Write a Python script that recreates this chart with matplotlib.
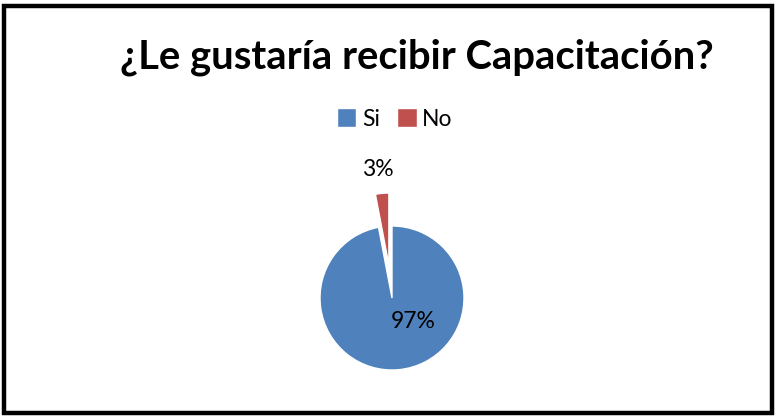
import matplotlib
matplotlib.use("Agg")
import matplotlib.pyplot as plt
from matplotlib.patches import Rectangle

# Survey answers
categories = ["Si", "No"]
values = [97, 3]
colors = ["#4F81BD", "#C0504D"]
title = "¿Le gustaría recibir Capacitación?"

FONT = ["Lato", "DejaVu Sans"]
W, H, DPI = 777, 418, 100
fig = plt.figure(figsize=(W / DPI, H / DPI), dpi=DPI)
fig.patch.set_facecolor("white")

# Axes covering the whole figure; one data unit = pie radius in pixels
cx, cy, r = 392, 298, 72
ax = fig.add_axes([0, 0, 1, 1])
wedges, texts, autotexts = ax.pie(
    values,
    colors=colors,
    startangle=90,
    counterclock=False,
    explode=[0, 0.46],
    autopct="%1.0f%%",
    wedgeprops=dict(edgecolor="white", linewidth=1.0),
    textprops=dict(fontsize=16.5, color="black", family=FONT),
)
ax.set_xlim(-cx / r, (W - cx) / r)
ax.set_ylim(-(H - cy) / r, cy / r)
ax.set_aspect("auto")
ax.axis("off")

# Percentage label placement
autotexts[0].set_position((0.30, -0.33))
autotexts[1].set_position((-0.19, 1.78))
for t in autotexts:
    t.set_ha("center")
    t.set_va("center")

# Title
fig.text(417 / W, 1 - 57 / H, title, ha="center", va="center",
         fontsize=28.8, fontweight="bold", family=FONT)

# Legend
leg = fig.legend(wedges, categories, loc="center", bbox_to_anchor=(395 / W, 1 - 119 / H),
                 ncol=2, frameon=False, handlelength=0.84, handleheight=0.84,
                 handletextpad=0.25, columnspacing=0.75,
                 prop=dict(family=FONT, size=16.5))

# Outer border
fig.add_artist(Rectangle((4 / W, 5 / H), 768 / W, 407 / H, transform=fig.transFigure,
                         fill=False, edgecolor="black", linewidth=3.2))

fig.savefig("out.png", dpi=DPI)
